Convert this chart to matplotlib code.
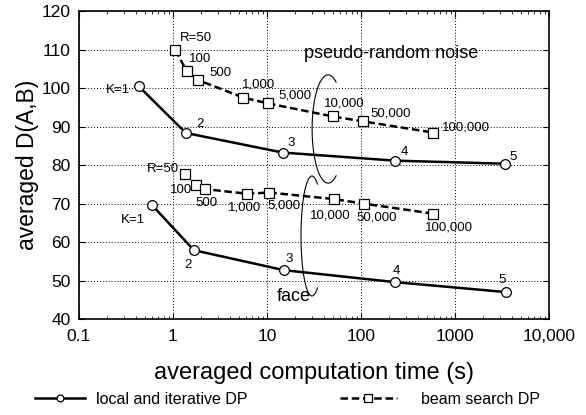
import matplotlib
matplotlib.use("Agg")
import numpy as np
import matplotlib.pyplot as plt
from matplotlib.ticker import FixedLocator, LogLocator, NullFormatter

plt.rcParams['font.family'] = ['Liberation Sans', 'DejaVu Sans']

# pseudo-random noise
noise_local_t = [0.43, 1.37, 14.7, 229, 3400]
noise_local_d = [100.6, 88.4, 83.3, 81.2, 80.4]
noise_beam_t = [1.06, 1.40, 1.83, 5.6, 10.2, 50, 106, 590]
noise_beam_d = [110.0, 104.4, 102.2, 97.6, 96.1, 92.7, 91.4, 88.5]

# face
face_local_t = [0.60, 1.67, 15.2, 229, 3500]
face_local_d = [69.6, 57.9, 52.7, 49.6, 47.0]
face_beam_t = [1.34, 1.74, 2.19, 6.1, 10.6, 51.6, 108, 590]
face_beam_d = [77.7, 74.9, 73.8, 72.6, 72.9, 71.2, 70.0, 67.4]

k_labels = ['K=1', '2', '3', '4', '5']
r_labels = ['R=50', '100', '500', '1,000', '5,000', '10,000', '50,000', '100,000']

x_ticks = [0.1, 1, 10, 100, 1000, 10000]
x_ticklabels = ['0.1', '1', '10', '100', '1000', '10,000']
y_ticks = [40, 50, 60, 70, 80, 90, 100, 110, 120]

# label offsets in pixels (dx, dy up)
noise_local_off = [(-21, -4), (14, 9), (8, 10), (10, 9), (8, 7)]
noise_beam_off = [(21, 12), (13, 12), (23, 7), (15, 13), (27, 8), (12, 13), (27, 8), (32, 5)]
face_local_off = [(-19, -15), (-6, -15), (5, 11), (2, 11), (-4, 12)]
face_beam_off = [(-22, 5), (-15, -5), (1, -14), (-2, -14), (15, -13), (-4, -16), (13, -14), (15, -14)]

fig = plt.figure(figsize=(5.86, 4.15), dpi=100)
ax = fig.add_axes([0.1348, 0.2313, 0.8021, 0.741])

local_style = dict(color='black', lw=1.8, marker='o', ms=7, mfc='white', mec='black', mew=0.9)
beam_style = dict(color='black', lw=1.8, ls=(0, (3, 1.5)), marker='s', ms=7.5, mfc='white', mec='black', mew=0.9)

l1, = ax.plot(noise_local_t, noise_local_d, **local_style)
l2, = ax.plot(noise_beam_t, noise_beam_d, **beam_style)
ax.plot(face_local_t, face_local_d, **local_style)
ax.plot(face_beam_t, face_beam_d, **beam_style)

def label_points(ts, ds, labels, offsets):
    for t, d, lab, off in zip(ts, ds, labels, offsets):
        ax.annotate(lab, (t, d), xytext=off, textcoords='offset pixels',
                    ha='center', va='center', fontsize=9.5)

label_points(noise_local_t, noise_local_d, k_labels, noise_local_off)
label_points(noise_beam_t, noise_beam_d, r_labels, noise_beam_off)
label_points(face_local_t, face_local_d, k_labels, face_local_off)
label_points(face_beam_t, face_beam_d, r_labels, face_beam_off)

# group brackets: open elliptical arcs, in axes fraction coords
def bracket(cx, cy, a, b):
    th = np.radians(np.linspace(60, 300, 100))
    ax.plot(cx + a * np.cos(th), cy + b * np.sin(th), transform=ax.transAxes,
            color='black', lw=0.8)

bracket(0.530, 0.618, 0.034, 0.176)
bracket(0.4957, 0.270, 0.0234, 0.195)

ax.text(0.665, 0.864, 'pseudo-random noise', transform=ax.transAxes,
        ha='center', va='center', fontsize=13)
ax.text(0.456, 0.073, 'face', transform=ax.transAxes, ha='center', va='center', fontsize=13)

ax.set_xscale('log')
ax.set_xlim(0.1, 10000)
ax.set_ylim(40, 120)
ax.xaxis.set_major_locator(FixedLocator(x_ticks))
ax.set_xticklabels(x_ticklabels)
ax.xaxis.set_minor_locator(LogLocator(base=10, subs=range(2, 10)))
ax.xaxis.set_minor_formatter(NullFormatter())
ax.set_yticks(y_ticks)
ax.tick_params(which='both', direction='in', top=True, right=True, labelsize=12.5)
ax.tick_params(which='major', length=4)
ax.tick_params(which='minor', length=2.5)
ax.tick_params(axis='x', pad=7)
ax.tick_params(axis='y', pad=6)
ax.grid(True, which='major', color='black', ls=(0, (1, 2)), lw=0.7)
for s in ax.spines.values():
    s.set_linewidth(1.2)

ax.set_xlabel('averaged computation time (s)', fontsize=17, labelpad=13)
ax.set_ylabel('averaged D(A,B)', fontsize=16.5, labelpad=2)

fig.legend([l1], ['local and iterative DP'], loc='center left', bbox_to_anchor=(35 / 586, 0.038),
           frameon=False, fontsize=11.5, handlelength=3.1, handletextpad=0.75,
           borderpad=0, borderaxespad=0, markerscale=0.7)
fig.legend([l2], ['beam search DP'], loc='center left', bbox_to_anchor=(340 / 586, 0.038),
           frameon=False, fontsize=11.5, handlelength=3.55, handletextpad=1.55,
           borderpad=0, borderaxespad=0, markerscale=0.7)

fig.savefig('out.png', dpi=100)
